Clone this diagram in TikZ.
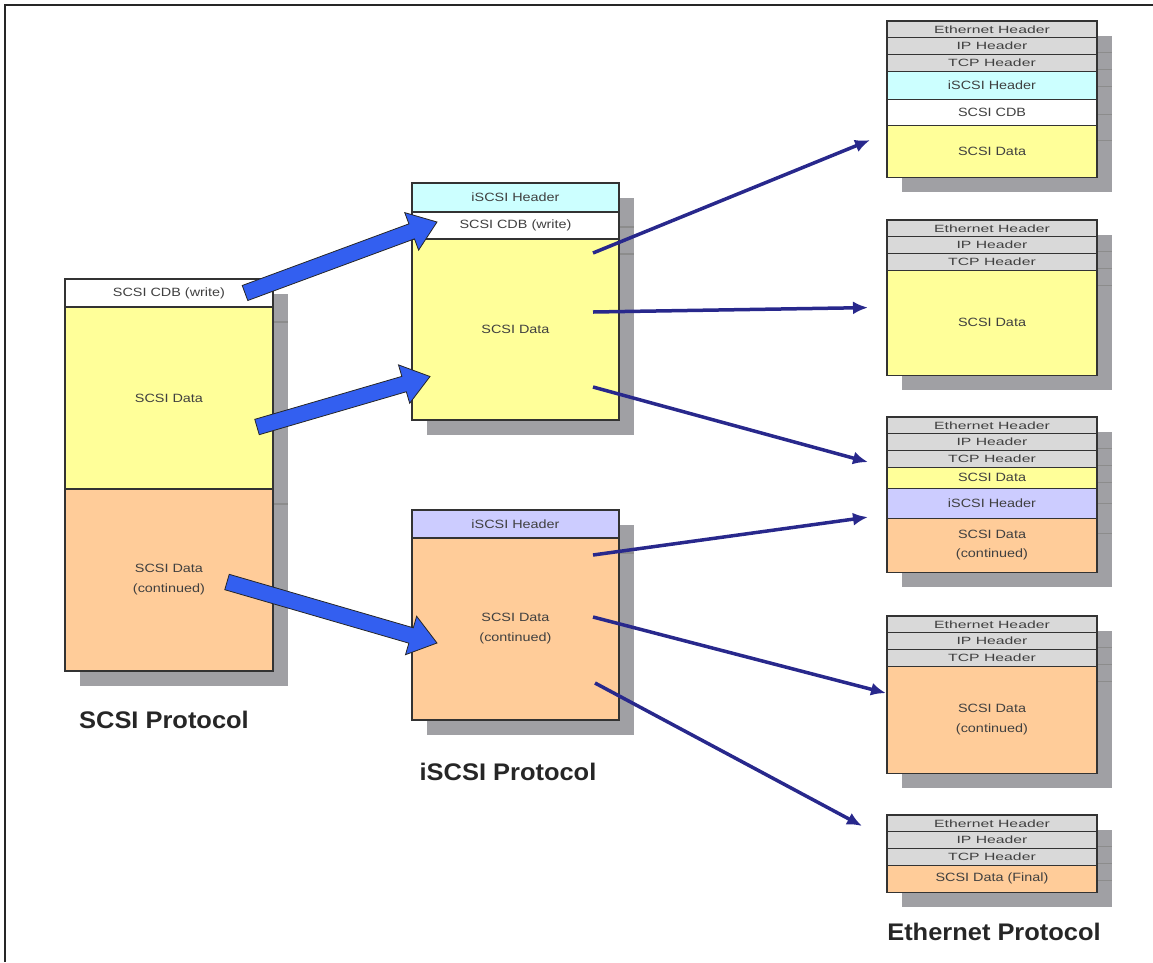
\documentclass[tikz,border=0pt]{standalone}
\usepackage{fontspec}
\setmainfont{Liberation Sans}
\newfontfamily\segfont[FakeStretch=1.2]{Liberation Sans}
\newfontfamily\hdrfont[FakeStretch=1.5]{Liberation Sans}
\newfontfamily\titlefont[FakeStretch=1.06]{Liberation Sans}
\usetikzlibrary{positioning,calc,arrows.meta,backgrounds}
\definecolor{hdrgray}{RGB}{217,217,217}
\definecolor{iscsicyan}{RGB}{204,255,255}
\definecolor{iscsilav}{RGB}{204,204,255}
\definecolor{datayel}{RGB}{255,255,153}
\definecolor{contorg}{RGB}{255,204,153}
\definecolor{shadegray}{RGB}{160,160,164}
\definecolor{bigblue}{RGB}{51,95,240}
\definecolor{pktnavy}{RGB}{40,40,140}

\tikzset{
  seg/.style={draw=black!80, line width=1.2pt, inner sep=0pt, outer sep=0pt,
              minimum width=207pt, text=black!75, align=center,
              font=\segfont\fontsize{12}{20}\selectfont},
  eseg/.style={seg, minimum width=210pt},
  hdrseg/.style={eseg, fill=hdrgray, minimum height=16.7pt,
                 font=\hdrfont\fontsize{10.5}{12}\selectfont},
  shadeline/.style={draw=black!45, line width=1.2pt},
  title/.style={font=\titlefont\bfseries\fontsize{24}{28}\selectfont, text=black!85},
  thinarrow/.style={-{Latex[length=15pt,width=13pt]}, line width=3.5pt, draw=pktnavy},
  bigarrow/.style={fill=bigblue, draw=black!85, line width=0.8pt, line join=miter}
}

% fat block arrow from #1 to #2
\newcommand\blockarrow[2]{%
  \coordinate (ab) at ($#2!27pt!#1$);
  \filldraw[bigarrow] ($#1!8pt!90:#2$) -- ($(ab)!8pt!90:#2$) -- ($(ab)!20pt!90:#2$) -- #2
    -- ($(ab)!20pt!-90:#2$) -- ($(ab)!8pt!-90:#2$) -- ($#1!8pt!-90:#2$) -- cycle;}

\begin{document}
\begin{tikzpicture}[x=1pt,y=-1pt]
  \useasboundingbox (0,0) rectangle (1153,962);
  \draw[line width=2pt, black!85] (5,962) -- (5,5) -- (1153,5);

  % SCSI layer
  \node[seg, minimum width=208pt, minimum height=28pt, fill=white, anchor=north west] (lcdb) at (65,279) {SCSI CDB (write)};
  \node[seg, minimum width=208pt, minimum height=182pt, fill=datayel, below=0pt of lcdb] (ldata) {SCSI Data};
  \node[seg, minimum width=208pt, minimum height=182pt, fill=contorg, below=0pt of ldata] (lcont) {SCSI Data\\(continued)};

  % iSCSI layer
  \node[seg, minimum height=29pt, fill=iscsicyan, anchor=north west] (m1hdr) at (412,183) {iSCSI Header};
  \node[seg, minimum height=27pt, fill=white, below=0pt of m1hdr] (m1cdb) {SCSI CDB (write)};
  \node[seg, minimum height=181pt, fill=datayel, below=0pt of m1cdb] (m1data) {SCSI Data};
  \node[seg, minimum height=28pt, fill=iscsilav, anchor=north west] (m2hdr) at (412,510) {iSCSI Header};
  \node[seg, minimum height=182pt, fill=contorg, below=0pt of m2hdr] (m2data) {SCSI Data\\(continued)};

  % Ethernet frames
  \foreach \f/\y in {f1/21, f2/220, f3/417, f4/616, f5/815} {
    \node[hdrseg, anchor=north west] (\f eth) at (887,\y) {Ethernet Header};
    \node[hdrseg, below=0pt of \f eth] (\f ip) {IP Header};
    \node[hdrseg, below=0pt of \f ip] (\f tcp) {TCP Header};
  }
  \node[eseg, minimum height=28pt, fill=iscsicyan, below=0pt of f1tcp] (f1hdr) {iSCSI Header};
  \node[eseg, minimum height=26pt, fill=white, below=0pt of f1hdr] (f1cdb) {SCSI CDB};
  \node[eseg, minimum height=52pt, fill=datayel, below=0pt of f1cdb] (f1data) {SCSI Data};
  \node[eseg, minimum height=105pt, fill=datayel, below=0pt of f2tcp] (f2data) {SCSI Data};
  \node[eseg, minimum height=21pt, fill=datayel, below=0pt of f3tcp] (f3data) {SCSI Data};
  \node[eseg, minimum height=30pt, fill=iscsilav, below=0pt of f3data] (f3hdr) {iSCSI Header};
  \node[eseg, minimum height=54pt, fill=contorg, below=0pt of f3hdr, font=\segfont\fontsize{12}{19}\selectfont] (f3cont) {SCSI Data\\(continued)};
  \node[eseg, minimum height=107pt, fill=contorg, below=0pt of f4tcp] (f4cont) {SCSI Data\\(continued)};
  \node[eseg, minimum height=27pt, fill=contorg, below=0pt of f5tcp] (f5final) {SCSI Data (Final)};

  % drop shadows
  \begin{scope}[on background layer]
    \foreach \hi/\lo in {lcdb/lcont, m1hdr/m1data, m2hdr/m2data, f1eth/f1data,
                         f2eth/f2data, f3eth/f3cont, f4eth/f4cont, f5eth/f5final}
      \fill[shadegray] ([shift={(15,15)}]\hi.north west) rectangle ([shift={(15,15)}]\lo.south east);
    \foreach \r in {lcdb, ldata, m1hdr, m1cdb, m2hdr,
                    f1eth, f1ip, f1tcp, f1hdr, f1cdb, f2eth, f2ip, f2tcp,
                    f3eth, f3ip, f3tcp, f3data, f3hdr, f4eth, f4ip, f4tcp,
                    f5eth, f5ip, f5tcp}
      \draw[shadeline] ([shift={(15,15)}]\r.south west) -- ([shift={(15,15)}]\r.south east);
  \end{scope}

  % titles
  \node[title] (scsilbl) at (164,720) {SCSI Protocol};
  \node[title] (iscsilbl) at (508,772) {iSCSI Protocol};
  \node[title] (ethlbl) at (994,932) {Ethernet Protocol};

  % SCSI -> iSCSI
  \coordinate (a1s) at ($(lcdb.east)+(-28,0)$);
  \coordinate (a1e) at ($(m1cdb.west)+(25,-3.5)$);
  \coordinate (a2s) at ($(ldata.east)+(-16,29)$);
  \coordinate (a2e) at ($(m1data.west)+(18,47)$);
  \coordinate (a3s) at ($(lcont.east)+(-46,2)$);
  \coordinate (a3e) at ($(m2data.west)+(25,14)$);
  \blockarrow{(a1s)}{(a1e)}
  \blockarrow{(a2s)}{(a2e)}
  \blockarrow{(a3s)}{(a3e)}

  % iSCSI -> Ethernet
  \draw[thinarrow] ($(m1data.north east)+(-26,14)$) -- ($(f1data.west)+(-17,-11)$);
  \draw[thinarrow] ($(m1data.east)+(-26,-17.5)$) -- ($(f2data.west)+(-19,-15)$);
  \draw[thinarrow] ($(m1data.east)+(-26,57.5)$) -- ($(f3data.west)+(-19,-15.5)$);
  \draw[thinarrow] ($(m2data.north east)+(-26,17)$) -- ($(f3hdr.west)+(-19,14)$);
  \draw[thinarrow] ($(m2data.east)+(-26,-12)$) -- ($(f4cont.west)+(-1,-26.5)$);
  \draw[thinarrow] ($(m2data.east)+(-24,54)$) -- ($(f5eth.west)+(-25,2.6)$);
\end{tikzpicture}
\end{document}
